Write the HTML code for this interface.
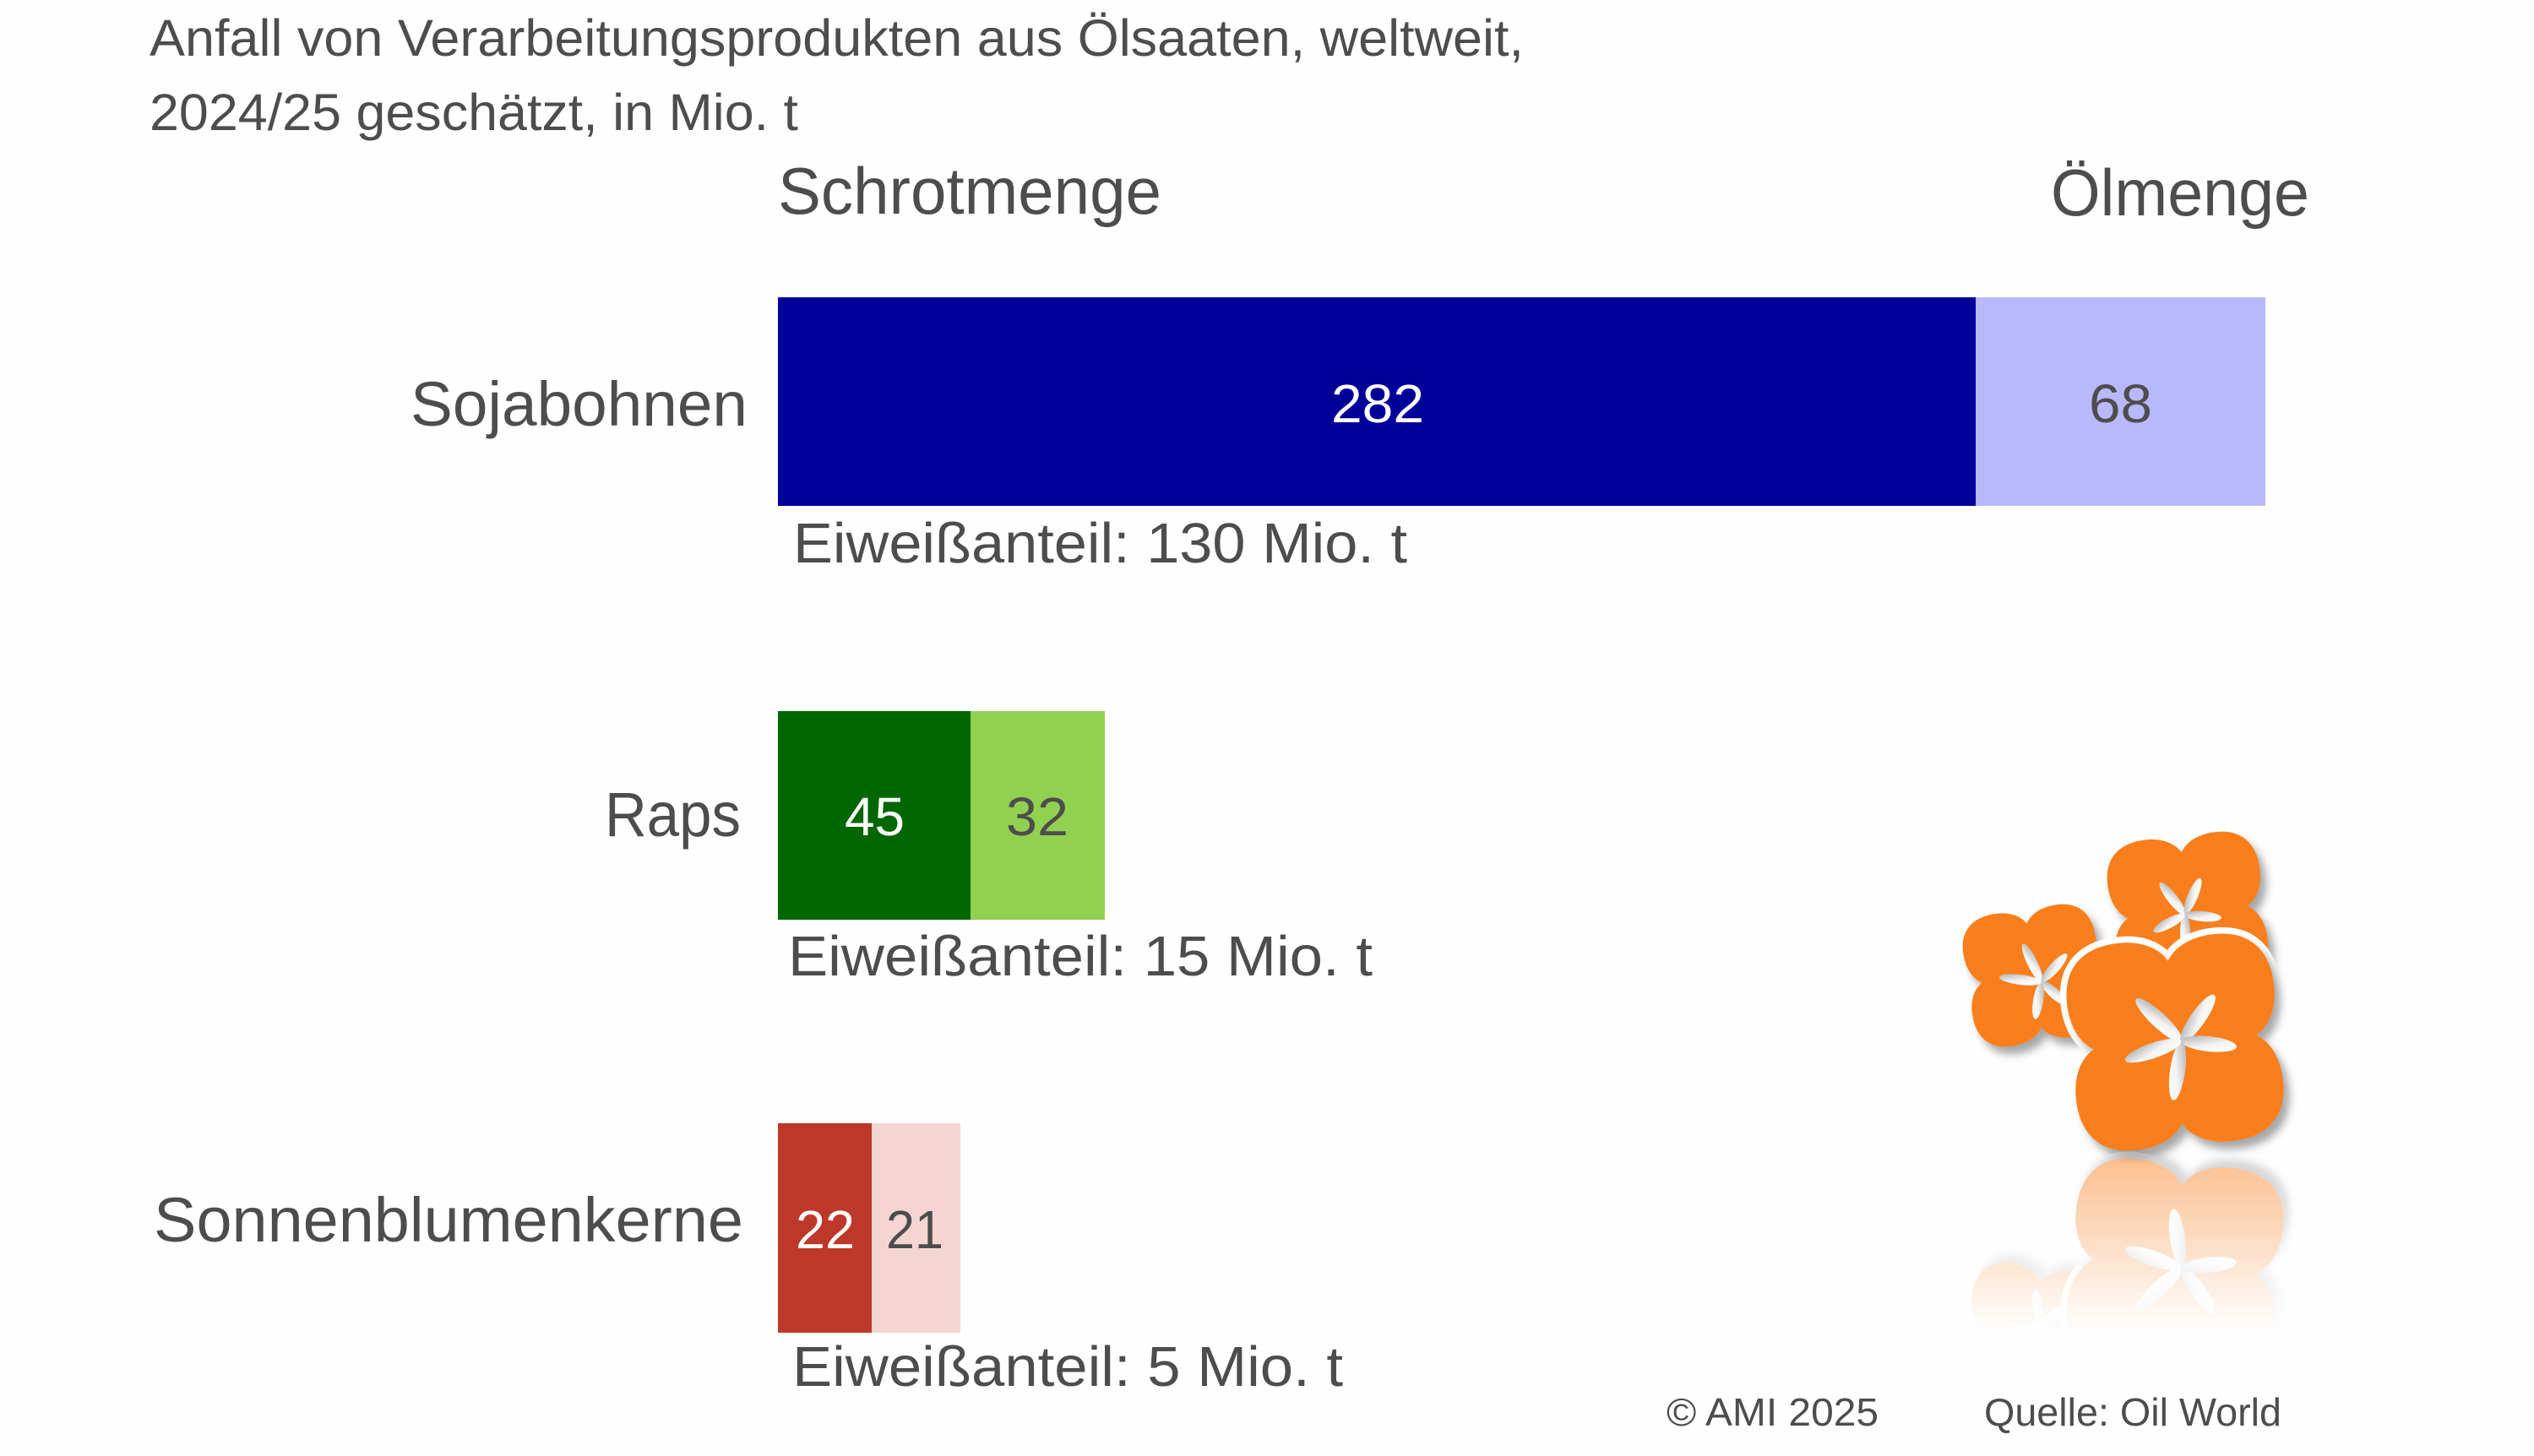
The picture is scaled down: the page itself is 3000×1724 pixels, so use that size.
<!DOCTYPE html>
<html><head><meta charset="utf-8"><style>
html,body{margin:0;padding:0;background:#fff;}
svg{display:block;}
text{font-family:"Liberation Sans",sans-serif;fill:#4d4d4d;}
</style></head><body>
<svg width="3000" height="1724" viewBox="0 0 3000 1724" xmlns="http://www.w3.org/2000/svg">
<defs>
  <path id="pet" d="M 6,6 L 6,-82 C 4,-108 -18,-128 -55,-129 C -100,-130 -130,-108 -130,-62 C -130,-22 -110,4 -82,6 Z"/>
  <g id="flw">
    <use href="#pet"/>
    <use href="#pet" transform="rotate(90)"/>
    <use href="#pet" transform="rotate(180)"/>
    <use href="#pet" transform="rotate(270)"/>
  </g>
  <filter id="sh" x="-30%" y="-30%" width="160%" height="160%">
    <feDropShadow dx="7" dy="9" stdDeviation="5" flood-color="#777" flood-opacity="0.65"/>
  </filter>
  <linearGradient id="spk" x1="0" y1="0" x2="1" y2="1">
    <stop offset="0" stop-color="#a8a8a8"/>
    <stop offset="0.55" stop-color="#f4f4f4"/>
    <stop offset="1" stop-color="#ffffff"/>
  </linearGradient>
  <linearGradient id="refl" gradientUnits="userSpaceOnUse" x1="0" y1="1367" x2="0" y2="1575">
    <stop offset="0" stop-color="#fff" stop-opacity="0.5"/>
    <stop offset="1" stop-color="#fff" stop-opacity="0"/>
  </linearGradient>
  <mask id="rm" maskUnits="userSpaceOnUse" x="2200" y="1360" width="600" height="260">
    <rect x="2200" y="1360" width="600" height="260" fill="url(#refl)"/>
  </mask>
  <g id="logo">
    <g filter="url(#sh)">
      <use href="#flw" transform="translate(2590,1080) rotate(-6) scale(0.7)" fill="#fa7f1e"/>
      <use href="#flw" transform="translate(2408,1155) rotate(-8) scale(0.61)" fill="#fa7f1e"/>
    </g>
    <g fill="url(#spk)">
      <ellipse cx="2572" cy="1064" rx="24" ry="6" transform="rotate(52,2572,1064)"/>
      <ellipse cx="2596" cy="1061" rx="23" ry="6" transform="rotate(-67,2596,1061)"/>
      <ellipse cx="2608" cy="1085" rx="22" ry="6" transform="rotate(5,2608,1085)"/>
      <ellipse cx="2587" cy="1105" rx="22" ry="6" transform="rotate(90,2587,1105)"/>
      <ellipse cx="2568" cy="1093" rx="21" ry="6" transform="rotate(-28,2568,1093)"/>
      <ellipse cx="2406" cy="1140" rx="25" ry="6" transform="rotate(64,2406,1140)"/>
      <ellipse cx="2432" cy="1146" rx="22" ry="6" transform="rotate(-48,2432,1146)"/>
      <ellipse cx="2432" cy="1176" rx="20" ry="6" transform="rotate(42,2432,1176)"/>
      <ellipse cx="2413" cy="1185" rx="22" ry="6" transform="rotate(99,2413,1185)"/>
      <ellipse cx="2392" cy="1160" rx="25" ry="6" transform="rotate(7,2392,1160)"/>
    </g>
    <use href="#flw" transform="translate(2575,1234) rotate(-5) scale(0.95)" fill="#fff" stroke="#fff" stroke-width="16"/>
    <g filter="url(#sh)">
      <use href="#flw" transform="translate(2575,1234) rotate(-5) scale(0.95)" fill="#fa7f1e"/>
    </g>
    <g fill="url(#spk)">
      <ellipse cx="2556" cy="1208" rx="37" ry="9" transform="rotate(43,2556,1208)"/>
      <ellipse cx="2602" cy="1206" rx="34" ry="9" transform="rotate(-55,2602,1206)"/>
      <ellipse cx="2615" cy="1236" rx="33" ry="9" transform="rotate(6,2615,1236)"/>
      <ellipse cx="2578" cy="1268" rx="35" ry="9" transform="rotate(98,2578,1268)"/>
      <ellipse cx="2549" cy="1244" rx="35" ry="9" transform="rotate(-19,2549,1244)"/>
    </g>
  </g>
</defs>

<rect width="3000" height="1724" fill="#fefefe"/>

<!-- Title -->
<text x="177" y="66" font-size="61" textLength="1627" lengthAdjust="spacingAndGlyphs">Anfall von Verarbeitungsprodukten aus Ölsaaten, weltweit,</text>
<text x="177" y="154" font-size="61" textLength="768" lengthAdjust="spacingAndGlyphs">2024/25 geschätzt, in Mio. t</text>

<!-- Column headers -->
<text x="921" y="253" font-size="78" textLength="454" lengthAdjust="spacingAndGlyphs">Schrotmenge</text>
<text x="2428" y="255" font-size="78" textLength="306" lengthAdjust="spacingAndGlyphs">Ölmenge</text>

<!-- Soja -->
<rect x="921" y="352" width="1418" height="247" fill="#000099"/>
<rect x="2339" y="352" width="343" height="247" fill="#b8b8fa"/>
<text x="486" y="504" font-size="74" textLength="399" lengthAdjust="spacingAndGlyphs">Sojabohnen</text>
<text x="1576" y="500" font-size="64" textLength="110" lengthAdjust="spacingAndGlyphs" style="fill:#fff">282</text>
<text x="2473" y="500" font-size="64" textLength="75" lengthAdjust="spacingAndGlyphs">68</text>
<text x="939" y="666" font-size="67" textLength="727" lengthAdjust="spacingAndGlyphs">Eiweißanteil: 130 Mio. t</text>

<!-- Raps -->
<rect x="921" y="842" width="228" height="247" fill="#006600"/>
<rect x="1149" y="842" width="159" height="247" fill="#92d050"/>
<text x="716" y="990" font-size="74" textLength="161" lengthAdjust="spacingAndGlyphs">Raps</text>
<text x="1000" y="989" font-size="64" textLength="71" lengthAdjust="spacingAndGlyphs" style="fill:#fff">45</text>
<text x="1191" y="989" font-size="64" textLength="74" lengthAdjust="spacingAndGlyphs">32</text>
<text x="933" y="1155" font-size="67" textLength="692" lengthAdjust="spacingAndGlyphs">Eiweißanteil: 15 Mio. t</text>

<!-- Sonnenblumen -->
<rect x="921" y="1330" width="111" height="248" fill="#bd3828"/>
<rect x="1032" y="1330" width="105" height="248" fill="#f5d5d2"/>
<text x="182" y="1470" font-size="74" textLength="698" lengthAdjust="spacingAndGlyphs">Sonnenblumenkerne</text>
<text x="942" y="1478" font-size="64" textLength="70" lengthAdjust="spacingAndGlyphs" style="fill:#fff">22</text>
<text x="1049" y="1478" font-size="64" textLength="68" lengthAdjust="spacingAndGlyphs">21</text>
<text x="938" y="1641" font-size="67" textLength="652" lengthAdjust="spacingAndGlyphs">Eiweißanteil: 5 Mio. t</text>

<!-- Logo -->
<use href="#logo"/>
<g mask="url(#rm)">
  <use href="#logo" transform="translate(0,2734) scale(1,-1)"/>
</g>

<!-- Footer -->
<text x="1973" y="1688" font-size="46" textLength="251" lengthAdjust="spacingAndGlyphs">© AMI 2025</text>
<text x="2349" y="1688" font-size="46" textLength="352" lengthAdjust="spacingAndGlyphs">Quelle: Oil World</text>
</svg>
</body></html>
